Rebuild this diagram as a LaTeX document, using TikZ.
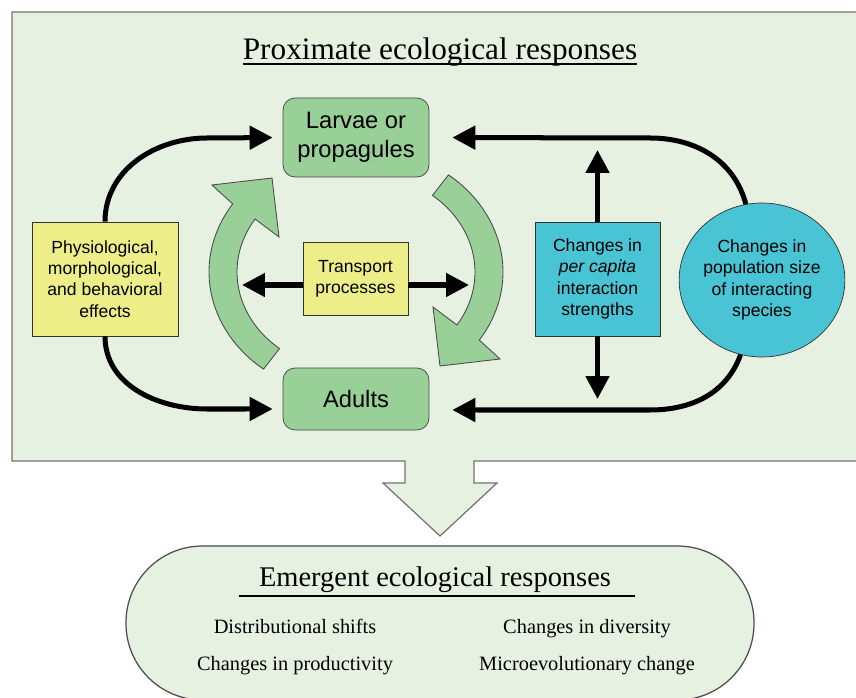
\documentclass[tikz,border=0pt]{standalone}
\usepackage{fontspec}
\setmainfont{Liberation Serif}
\setsansfont{Liberation Sans}
\usepackage{tikz}
\usetikzlibrary{arrows.meta}
\usetikzlibrary{shapes.geometric}
\definecolor{panelgreen}{RGB}{231,241,225}
\definecolor{boxgreen}{RGB}{152,208,152}
\definecolor{boxyellow}{RGB}{238,238,136}
\definecolor{boxcyan}{RGB}{72,196,212}

\begin{document}
\begin{tikzpicture}[x=0.02cm, y=0.02cm,
		stage/.style={draw=black!75, fill=boxgreen, rounded corners=0.24cm, minimum width=2.92cm,
			align=center, inner sep=0pt, font=\sffamily\fontsize{13.5}{16.4}\selectfont},
		effect/.style={draw=black!80, align=center, inner sep=0pt, font=\sffamily\fontsize{10}{12.2}\selectfont},
		fat/.style={line width=2.85pt, -{Triangle[length=0.46cm, width=0.46cm]}},
		lifearc/.style={fill=boxgreen, draw=black!70, line width=0.5pt},
		item/.style={anchor=base, font=\fontsize{11.6}{13}\selectfont}]
		\useasboundingbox (0,0) rectangle (856,697);

		% Proximate panel, with the big arrow below it
		\filldraw[fill=panelgreen, draw=black!55, line width=0.7pt]
			(12,685) -- (880,685) -- (880,236) -- (474,236) -- (474,214) -- (497,214)
			-- (440,161) -- (383,214) -- (405,214) -- (405,236) -- (12,236) -- cycle;
		\node[anchor=base, inner sep=0pt, font=\fontsize{17.8}{20}\selectfont] (ttl) at (440,637)
			{Proximate ecological responses};
		\draw[line width=0.8pt] ([yshift=-0.08cm]ttl.base west) -- ([yshift=-0.08cm]ttl.base east);

		% Life cycle
		\coordinate (C) at (356,425);
		\filldraw[lifearc] ([shift={(231:147 and 125)}]C)
			arc[start angle=231, end angle=147, x radius=147, y radius=125]
			-- ([shift={(-144,87)}]C) -- ([shift={(-84,94)}]C) -- ([shift={(-77,35)}]C)
			-- ([shift={(148:119 and 100)}]C)
			arc[start angle=148, end angle=230, x radius=119, y radius=100] -- cycle;
		\filldraw[lifearc] ([shift={(51:147 and 125)}]C)
			arc[start angle=51, end angle=-33, x radius=147, y radius=125]
			-- ([shift={(144,-87)}]C) -- ([shift={(84,-94)}]C) -- ([shift={(77,-35)}]C)
			-- ([shift={(-32:119 and 100)}]C)
			arc[start angle=-32, end angle=50, x radius=119, y radius=100] -- cycle;

		\node[stage, minimum height=1.58cm] (larv) at (356,559.5) {Larvae or\\propagules};
		\node[stage, minimum height=1.24cm] (adult) at (356,298) {Adults};

		% Effects
		\node[effect, fill=boxyellow, minimum width=2.92cm, minimum height=2.28cm] (phys) at (105,418)
			{Physiological,\\morphological,\\and behavioral\\effects};
		\node[effect, fill=boxyellow, minimum width=2.1cm, minimum height=1.46cm] (trans) at (355.5,418.5)
			{Transport\\processes};
		\node[effect, fill=boxcyan, minimum width=2.5cm, minimum height=2.28cm] (capita) at (597.5,418)
			{Changes in\\\textit{per capita}\\interaction\\strengths};
		\node[effect, fill=boxcyan, ellipse, minimum width=3.3cm, minimum height=3.08cm] (popn) at (762,417)
			{Changes in\\population size\\of interacting\\species};

		% Arrows
		\coordinate (ltip) at (242,412);
		\coordinate (rtip) at (469,412);
		\coordinate (uptip) at (597.5,547);
		\coordinate (dntip) at (597.5,298);
		\draw[fat] (trans.west |- ltip) -- (ltip);
		\draw[fat] (trans.east |- rtip) -- (rtip);
		\draw[fat] (capita.north) -- (uptip);
		\draw[fat] (capita.south) -- (dntip);
		\draw[fat, shorten >=0.2cm] (phys.north) to[out=90, in=180] (207,559) -- (larv.west);
		\draw[fat, shorten >=0.2cm] (phys.south) to[out=-90, in=180] (207,288) -- ([yshift=-0.2cm]adult.west);
		\draw[fat, shorten >=0.46cm] (popn.102) to[out=105, in=0] (650,559) -- (larv.east);
		\draw[fat, shorten >=0.46cm] (popn.254) to[out=-110, in=0] (650,287) -- ([yshift=-0.22cm]adult.east);

		% Emergent responses
		\filldraw[fill=panelgreen, draw=black!70, line width=0.7pt, rounded corners=1.53cm]
			(126,151) rectangle (754,-3);
		\node[anchor=base, inner sep=0pt, font=\fontsize{16.2}{19}\selectfont] (emt) at (435,110)
			{Emergent ecological responses};
		\draw[line width=0.8pt] ([xshift=-0.4cm, yshift=-0.18cm]emt.base west)
			-- ([xshift=0.48cm, yshift=-0.18cm]emt.base east);
		\node[item] (dist) at (295,63) {Distributional shifts};
		\node[item] (divs) at (587,63) {Changes in diversity};
		\node[item] (prod) at (295,27) {Changes in productivity};
		\node[item] (evol) at (587,27) {Microevolutionary change};
	\end{tikzpicture}
\end{document}
